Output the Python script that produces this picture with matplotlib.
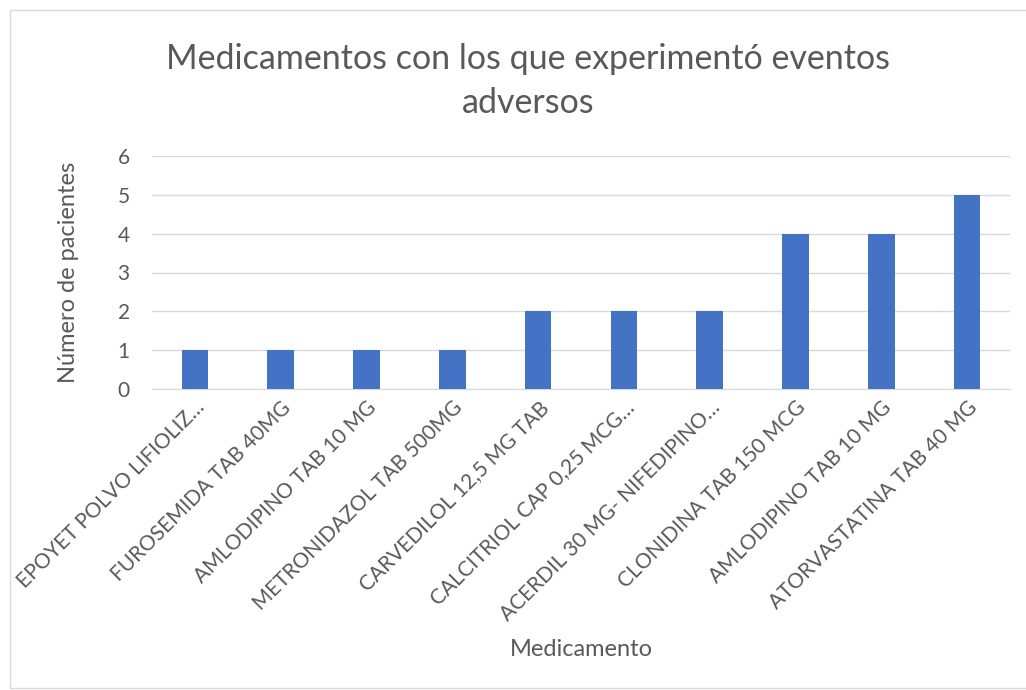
import matplotlib
matplotlib.use("Agg")
import matplotlib.pyplot as plt
from matplotlib.patches import Rectangle

medicamentos = ["EPOYET POLVO LIFIOLIZ…", "FUROSEMIDA TAB 40MG", "AMLODIPINO TAB 10 MG",
                "METRONIDAZOL TAB 500MG", "CARVEDILOL 12,5 MG TAB", "CALCITRIOL CAP 0,25 MCG…",
                "ACERDIL 30 MG- NIFEDIPINO…", "CLONIDINA TAB 150 MCG", "AMLODIPINO TAB 10 MG",
                "ATORVASTATINA TAB 40 MG"]
pacientes = [1, 1, 1, 1, 2, 2, 2, 4, 4, 5]
yticks = [0, 1, 2, 3, 4, 5, 6]

TXT = "#595959"
plt.rcParams["font.family"] = ["Lato", "DejaVu Sans"]

fig = plt.figure(figsize=(10.26, 6.9), dpi=100)
fig.patches.append(Rectangle((10 / 1026, 2 / 690), 1.0, 678 / 690, transform=fig.transFigure,
                             fill=False, edgecolor="#d9d9d9", linewidth=1))
ax = fig.add_axes([152 / 1026, 1 - 389 / 690, 858 / 1026, 233 / 690])

x = list(range(len(medicamentos)))
ax.bar(x, pacientes, width=0.31, color="#4472C4", zorder=3)
ax.set_xlim(-0.5, len(medicamentos) - 0.5)
ax.set_ylim(0, 6)
ax.set_yticks(yticks)
ax.set_xticks(x)
ax.set_xticklabels(medicamentos, rotation=45, ha="right", rotation_mode="anchor",
                   fontsize=15, color=TXT)
ax.tick_params(axis="y", labelsize=15, labelcolor=TXT, length=0, pad=16)
ax.tick_params(axis="x", length=0, pad=6)
ax.grid(axis="y", color="#d9d9d9", linewidth=1, zorder=0)
for s in ["top", "right", "left"]:
    ax.spines[s].set_visible(False)
ax.spines["bottom"].set_color("#d9d9d9")

ax.set_ylabel("Número de pacientes", fontsize=17, color=TXT, labelpad=28)
ax.set_xlabel("Medicamento", fontsize=17, color=TXT, labelpad=10)
fig.text(0.515, 1 - 81 / 690, "Medicamentos con los que experimentó eventos\nadversos",
         ha="center", va="center", fontsize=24.5, color=TXT, linespacing=1.45)

fig.savefig("out.png", dpi=100)
